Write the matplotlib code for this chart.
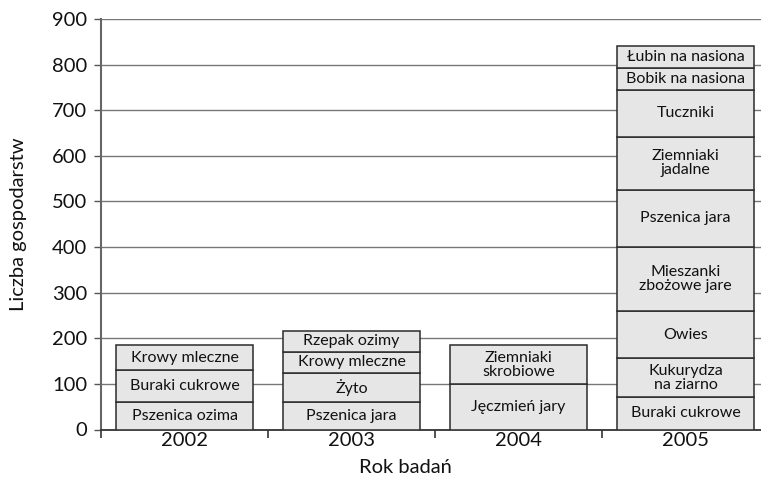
import matplotlib.pyplot as plt
import numpy as np

plt.rcParams['font.family'] = ['Lato', 'DejaVu Sans']

lata = ["2002", "2003", "2004", "2005"]

# kolejne segmenty slupkow (od dolu)
etykiety = [
    ["Pszenica ozima", "Buraki cukrowe", "Krowy mleczne"],
    ["Pszenica jara", "Żyto", "Krowy mleczne", "Rzepak ozimy"],
    ["Jęczmień jary", "Ziemniaki\nskrobiowe"],
    ["Buraki cukrowe", "Kukurydza\nna ziarno", "Owies", "Mieszanki\nzbożowe jare",
     "Pszenica jara", "Ziemniaki\njadalne", "Tuczniki", "Bobik na nasiona",
     "Łubin na nasiona"],
]
wartosci = [
    [60, 70, 55],
    [60, 64, 46, 47],
    [100, 85],
    [72, 84, 103, 142, 124, 117, 102, 48, 49],
]

fig = plt.figure(figsize=(7.61, 4.87), dpi=100)
ax = fig.add_axes([101 / 761, 57.5 / 487, 668 / 761, 410.5 / 487])

for i in range(len(lata)):
    dol = 0
    for nazwa, v in zip(etykiety[i], wartosci[i]):
        ax.bar(i, v, bottom=dol, width=0.815, color="#e6e6e6",
               edgecolor="#2b2b2b", linewidth=1.1, zorder=3)
        ax.text(i, dol + v / 2, nazwa, ha="center", va="center",
                fontsize=11.5, color="#111111", linespacing=1.0, zorder=4)
        dol += v

ax.set_ylim(0, 900)
ax.set_xlim(-0.5, 3.5)
ax.set_yticks(np.arange(0, 901, 100))
ax.yaxis.grid(True, color="#777777", linewidth=1.0, zorder=0)

ax.set_xticks([-0.5, 0.5, 1.5, 2.5])
ax.set_xticklabels([])
ax.set_xticks(range(4), minor=True)
ax.set_xticklabels(lata, minor=True)
ax.tick_params(axis="x", which="minor", length=0, pad=2, labelsize=14.5, labelcolor="#111111")
ax.tick_params(axis="x", which="major", length=6, color="#333333", width=1.2)
ax.tick_params(axis="y", length=5, color="#555555", width=1.0, labelsize=14.5,
               pad=5, labelcolor="#111111")

for s in ["top", "right"]:
    ax.spines[s].set_visible(False)
ax.spines["left"].set_color("#666666")
ax.spines["left"].set_linewidth(1.5)
ax.spines["bottom"].set_color("#333333")
ax.spines["bottom"].set_linewidth(1.3)

ax.set_ylabel("Liczba gospodarstw", fontsize=14.5, color="#111111")
ax.yaxis.set_label_coords(-74 / 668, 0.5)
ax.set_xlabel("Rok badań", fontsize=14.5, color="#111111")
ax.xaxis.set_label_coords((405 - 101) / 668, -0.072)

fig.savefig("out.png", dpi=100)
